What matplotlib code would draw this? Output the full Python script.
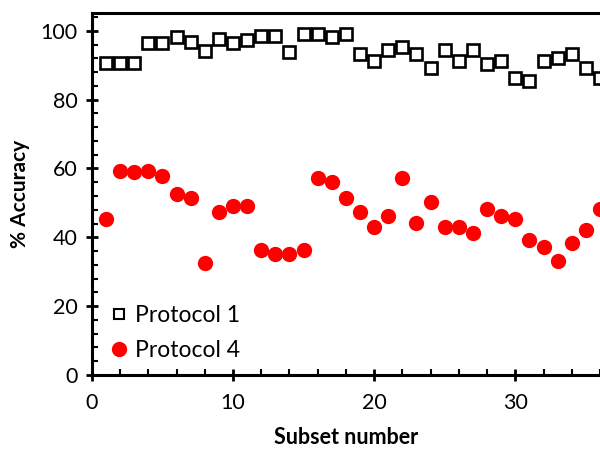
import matplotlib
matplotlib.use('Agg')
import matplotlib.pyplot as plt
from matplotlib.ticker import MultipleLocator

## data
subsets = list(range(1, 37))
protocol_1 = [90.5, 90.5, 90.7, 96.5, 96.5, 98.2, 96.8, 94.0, 97.5, 96.4,
              97.3, 98.5, 98.5, 93.7, 99.1, 99.0, 98.3, 99.2, 93.3, 91.3,
              94.3, 95.2, 93.3, 89.3, 94.3, 91.3, 94.3, 90.4, 91.3, 86.2,
              85.4, 91.3, 92.2, 93.2, 89.3, 86.2]
protocol_4 = [45.3, 59.3, 59.1, 59.3, 57.9, 52.6, 51.3, 32.6, 47.3, 49.1,
              49.1, 36.2, 35.2, 35.2, 36.2, 57.2, 56.1, 51.3, 47.2, 43.1,
              46.2, 57.2, 44.2, 50.3, 43.1, 43.1, 41.2, 48.2, 46.2, 45.3,
              39.2, 37.2, 33.2, 38.2, 42.2, 48.2]

plt.rcParams['font.family'] = ['Lato', 'DejaVu Sans']

fig = plt.figure(figsize=(6.0, 4.49), dpi=100)
ax = fig.add_axes([0.153, 0.165, 0.847, 0.807])

## the two series
ax.plot(subsets, protocol_1, linestyle='none', marker='s', markersize=8.8,
        markerfacecolor='white', markeredgecolor='black', markeredgewidth=1.9,
        label='Protocol 1')
ax.plot(subsets, protocol_4, linestyle='none', marker='o', markersize=10,
        markerfacecolor='red', markeredgecolor='red', label='Protocol 4')

ax.set_xlim(0, 36)
ax.set_ylim(0, 105.3)
ax.xaxis.set_major_locator(MultipleLocator(10))
ax.xaxis.set_minor_locator(MultipleLocator(2))
ax.yaxis.set_major_locator(MultipleLocator(20))
ax.yaxis.set_minor_locator(MultipleLocator(4))

## axes styling
for side in ['left', 'bottom', 'top']:
    ax.spines[side].set_linewidth(2.2)
ax.spines['right'].set_visible(False)
ax.tick_params(which='major', direction='inout', length=8, width=2,
               labelsize=15.5)
ax.tick_params(axis='x', which='major', pad=9)
ax.tick_params(axis='y', which='major', pad=6)
ax.tick_params(which='minor', direction='in', length=4, width=1.5)
ax.tick_params(top=False, right=False)

ax.set_xlabel('Subset number', fontsize=15.5, fontweight='bold', labelpad=10)
ax.set_ylabel('% Accuracy', fontsize=15, fontweight='bold', labelpad=8)

leg = ax.legend(loc='lower left', frameon=False, fontsize=16.5,
                handletextpad=0.1, borderaxespad=0.2, labelspacing=0.63,
                handlelength=1.2, bbox_to_anchor=(0.0, 0.0))
leg.legend_handles[0].set_markersize(7)
leg.legend_handles[0].set_markeredgewidth(1.5)

fig.savefig('out.png', dpi=100)
